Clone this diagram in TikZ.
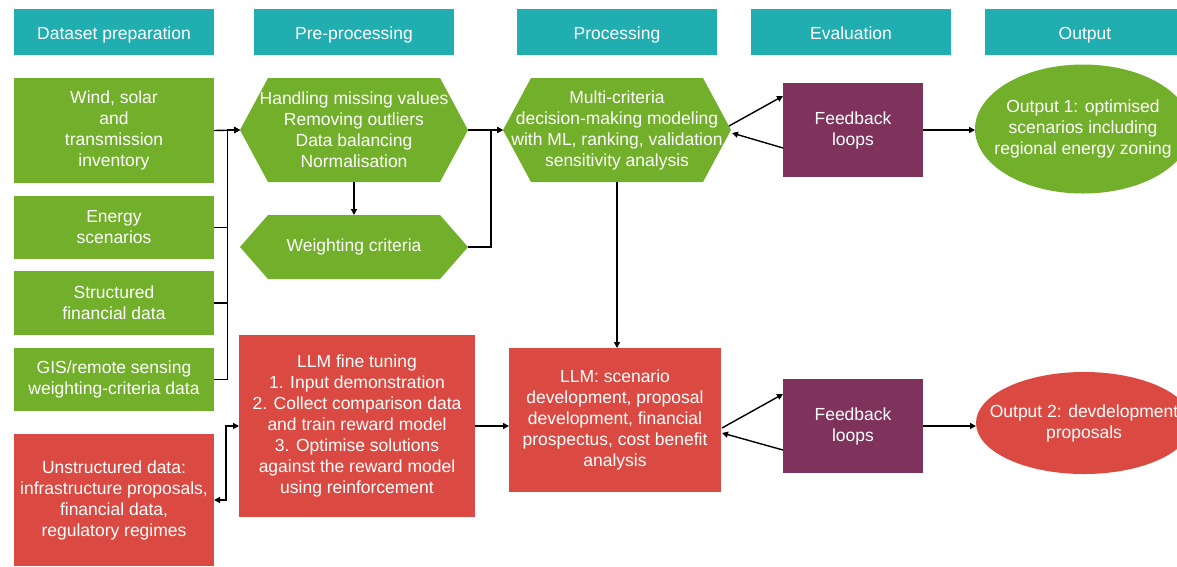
\documentclass[tikz,border=0pt]{standalone}
\usepackage{fontspec}
\setmainfont{Liberation Sans}
\usetikzlibrary{shapes.geometric,arrows.meta,calc}
\definecolor{cteal}{RGB}{33,174,177}
\definecolor{cgreen}{RGB}{114,175,43}
\definecolor{cred}{RGB}{219,74,66}
\definecolor{cpurple}{RGB}{126,50,92}
\begin{document}
\begin{tikzpicture}[x=1pt,y=-1pt,
  box/.style={rectangle, inner sep=0pt, outer sep=0pt, text=white, align=center,
    font=\fontsize{17.5}{21}\selectfont},
  hdr/.style={box, fill=cteal, minimum width=200pt, minimum height=46pt,
    text height=14.6pt, text depth=0pt},
  gbox/.style={box, fill=cgreen, minimum width=200pt},
  rbox/.style={box, fill=cred},
  pbox/.style={box, fill=cpurple, minimum width=140pt, minimum height=94pt},
  hexa/.style={box, minimum width=228pt, minimum height=#1,
    path picture={\fill[cgreen] (path picture bounding box.west)
      -- ($(path picture bounding box.north west)+(28pt,0pt)$)
      -- ($(path picture bounding box.north east)+(-28pt,0pt)$)
      -- (path picture bounding box.east)
      -- ($(path picture bounding box.south east)+(-28pt,0pt)$)
      -- ($(path picture bounding box.south west)+(28pt,0pt)$) -- cycle;}},
  oval/.style={shape=ellipse, inner sep=0pt, outer sep=0pt, minimum width=216pt},
  arr/.style={line width=1.4pt, -{Triangle[length=6pt,width=6pt]}},
  darr/.style={line width=1.4pt, {Triangle[length=6pt,width=6pt]}-{Triangle[length=6pt,width=6pt]}}
]
\useasboundingbox (0,0) rectangle (1177,566);
\clip (0,0) rectangle (1177,566);
\fill[white] (0,0) rectangle (1177,566);

% headers
\node[hdr] (h1) at (114,32) {Dataset preparation};
\node[hdr] (h2) at (354,32) {Pre-processing};
\node[hdr] (h3) at (617,32) {Processing};
\node[hdr] (h4) at (851,32) {Evaluation};
\node[hdr] (h5) at (1085,32) {Output};

% dataset column
\node[gbox, minimum height=105pt] (wind) at (114,130.5) {Wind, solar\\and\\transmission\\inventory};
\node[gbox, minimum height=63pt] (energy) at (114,227.5) {Energy\\scenarios};
\node[gbox, minimum height=64pt] (struct) at (114,303) {Structured\\financial data};
\node[gbox, minimum height=63pt] (gis) at (114,379.5) {GIS/remote sensing\\weighting-criteria data};
\node[rbox, minimum width=200pt, minimum height=132pt] (unstr) at (114,500) {Unstructured data:\\infrastructure proposals,\\financial data,\\regulatory regimes};

% pre-processing
\node[hexa=104pt] (hex1) at (354,130) {Handling missing values\\Removing outliers\\Data balancing\\Normalisation};
\node[hexa=64pt] (wc) at (354,247) {Weighting criteria};
\node[rbox, minimum width=236pt, minimum height=182pt] (llmft) at (357,426) {LLM fine tuning\\1. Input demonstration\\2. Collect comparison data\\and train reward model\\3. Optimise solutions\\against the reward model\\using reinforcement};

% processing
\node[hexa=104pt] (hex3) at (617,130) {Multi-criteria\\decision-making modeling\\with ML, ranking, validation\\sensitivity analysis};
\node[rbox, minimum width=212pt, minimum height=144pt] (llm) at (615,420) {LLM: scenario\\development, proposal\\development, financial\\prospectus, cost benefit\\analysis};

% evaluation
\node[pbox] (fb1) at (853,130) {Feedback\\loops};
\node[pbox] (fb2) at (853,426) {Feedback\\loops};

% outputs
\node[oval, fill=cgreen, minimum height=129pt] (out1) at (1083,129) {};
\node[box] (out1t) at (out1.center) {Output 1: optimised\\scenarios including\\regional energy zoning};
\node[oval, fill=cred, minimum height=102pt] (out2) at (1084,423) {};
\node[box] (out2t) at (out2.center) {Output 2: devdelopment\\proposals};

% connectors: dataset -> pre-processing
\coordinate (bus1) at (227.5,130);
\draw[arr] (wind.east) -- (hex1.west);
\draw[arr] (energy.east) -| (bus1) -- (hex1.west);
\draw[arr] (struct.east) -| (bus1) -- (hex1.west);
\draw[arr] (gis.east) -| (bus1) -- (hex1.west);
\draw[darr] (unstr.east) -- ++(12,0) |- (llmft.west);

% pre-processing -> processing
\coordinate (bus2) at (491,130);
\draw[arr] (hex1.south) -- (wc.north);
\draw[arr] (hex1.east) -- (hex3.west);
\draw[arr] (wc.east) -| (bus2) -- (hex3.west);
\draw[arr] (llmft.east) -- (llmft.east -| llm.west);
\draw[arr] (hex3.south) -- (hex3.south |- llm.north);

% processing <-> evaluation
\draw[arr] ($(hex3.east)+(-2,-4)$) -- ($(fb1.north west)+(0,13)$);
\draw[arr] ($(fb1.south west)+(0,-29)$) -- ($(hex3.east)+(1,3)$);
\draw[arr] ($(llm.north east)+(1,80)$) -- ($(fb2.north west)+(0,15)$);
\draw[arr] ($(fb2.south west)+(0,-23)$) -- ($(llm.north east)+(1,85)$);

% evaluation -> output
\draw[arr] (fb1.east) -- (fb1.east -| out1.west);
\draw[arr] (fb2.east) -- (fb2.east -| out2.west);
\end{tikzpicture}
\end{document}
